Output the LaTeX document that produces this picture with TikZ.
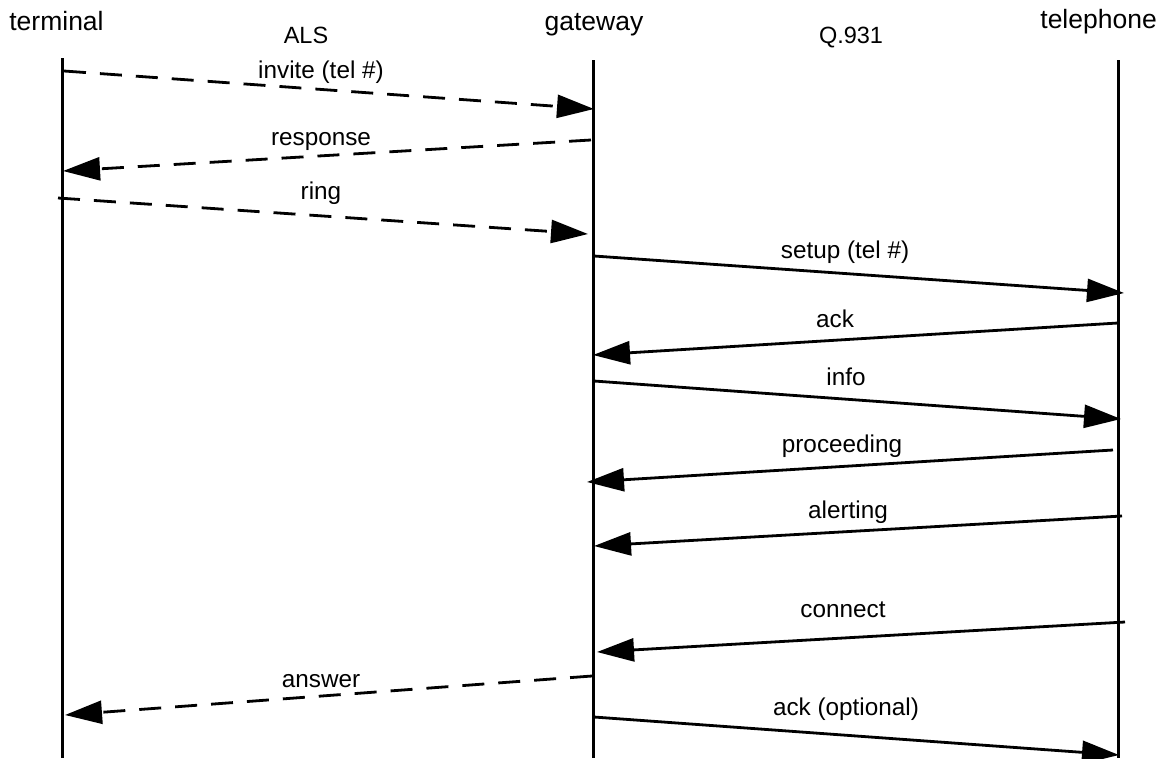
\documentclass[tikz,border=0pt]{standalone}
\usepackage{fontspec}
\setmainfont{Liberation Sans}
\usetikzlibrary{arrows.meta}
\begin{document}
\begin{tikzpicture}[x=1pt,y=-1pt,
  lifeline/.style={line width=3pt},
  msg/.style={line width=2.8pt,-{Triangle[length=37pt,width=23pt]}},
  dmsg/.style={msg,dash pattern=on 22pt off 14pt},
  head/.style={font=\fontsize{26.5}{30}\selectfont,anchor=base,inner sep=0pt},
  proto/.style={font=\fontsize{23.5}{28}\selectfont,anchor=base,inner sep=0pt},
  lbl/.style={font=\fontsize{24.3}{28}\selectfont,inner sep=0pt,text height=17pt,text depth=5pt}]
\useasboundingbox (0,0) rectangle (1164,758);
% headers
\node[head] (hterm) at (56.5,30) {terminal};
\node[head] (hgate) at (594,30) {gateway};
\node[head,anchor=base east] (htel) at (1157,28) {telephone};
\node[proto] (als) at (306,43) {ALS};
\node[proto] (q931) at (851,43) {Q.931};
% lifelines
\coordinate (T0) at (62,58); \coordinate (T1) at (62,758);
\coordinate (G0) at (593,60); \coordinate (G1) at (593,758);
\coordinate (P0) at (1118,60); \coordinate (P1) at (1118,758);
\draw[lifeline] (T0) -- (T1);
\draw[lifeline] (G0) -- (G1);
\draw[lifeline] (P0) -- (P1);
% message endpoints
\coordinate (a1) at (64,71);   \coordinate (b1) at (594,109);
\coordinate (a2) at (591,140); \coordinate (b2) at (63,171);
\coordinate (a3) at (58,198);  \coordinate (b3) at (588,234);
\coordinate (a4) at (594,256); \coordinate (b4) at (1124,293);
\coordinate (a5) at (1118,323);\coordinate (b5) at (593,355);
\coordinate (a6) at (594,381); \coordinate (b6) at (1121,419);
\coordinate (a7) at (1113,450);\coordinate (b7) at (587,482);
\coordinate (a8) at (1122,516);\coordinate (b8) at (594,546);
\coordinate (a9) at (1125,622);\coordinate (b9) at (597,652);
\coordinate (a10) at (592,676);\coordinate (b10) at (65,715);
\coordinate (a11) at (594,717);\coordinate (b11) at (1119,755);
% messages
\draw[dmsg] (a1) -- (b1);
\draw[dmsg] (a2) -- (b2);
\draw[dmsg] (a3) -- (b3);
\draw[msg] (a4) -- (b4);
\draw[msg] (a5) -- (b5);
\draw[msg] (a6) -- (b6);
\draw[msg] (a7) -- (b7);
\draw[msg] (a8) -- (b8);
\draw[msg] (a9) -- (b9);
\draw[dmsg] (a10) -- (b10);
\draw[msg] (a11) -- (b11);
% labels
\node[lbl] (l1) at (321,72) {invite (tel \#)};
\node[lbl] (l2) at (321,139) {response};
\node[lbl] (l3) at (321,193) {ring};
\node[lbl] (l4) at (845,252) {setup (tel \#)};
\node[lbl] (l5) at (835,321) {ack};
\node[lbl] (l6) at (846,379) {info};
\node[lbl] (l7) at (842,446) {proceeding};
\node[lbl] (l8) at (848,512) {alerting};
\node[lbl] (l9) at (843,611) {connect};
\node[lbl] (l10) at (321,681) {answer};
\node[lbl] (l11) at (846,709) {ack (optional)};
\end{tikzpicture}
\end{document}
